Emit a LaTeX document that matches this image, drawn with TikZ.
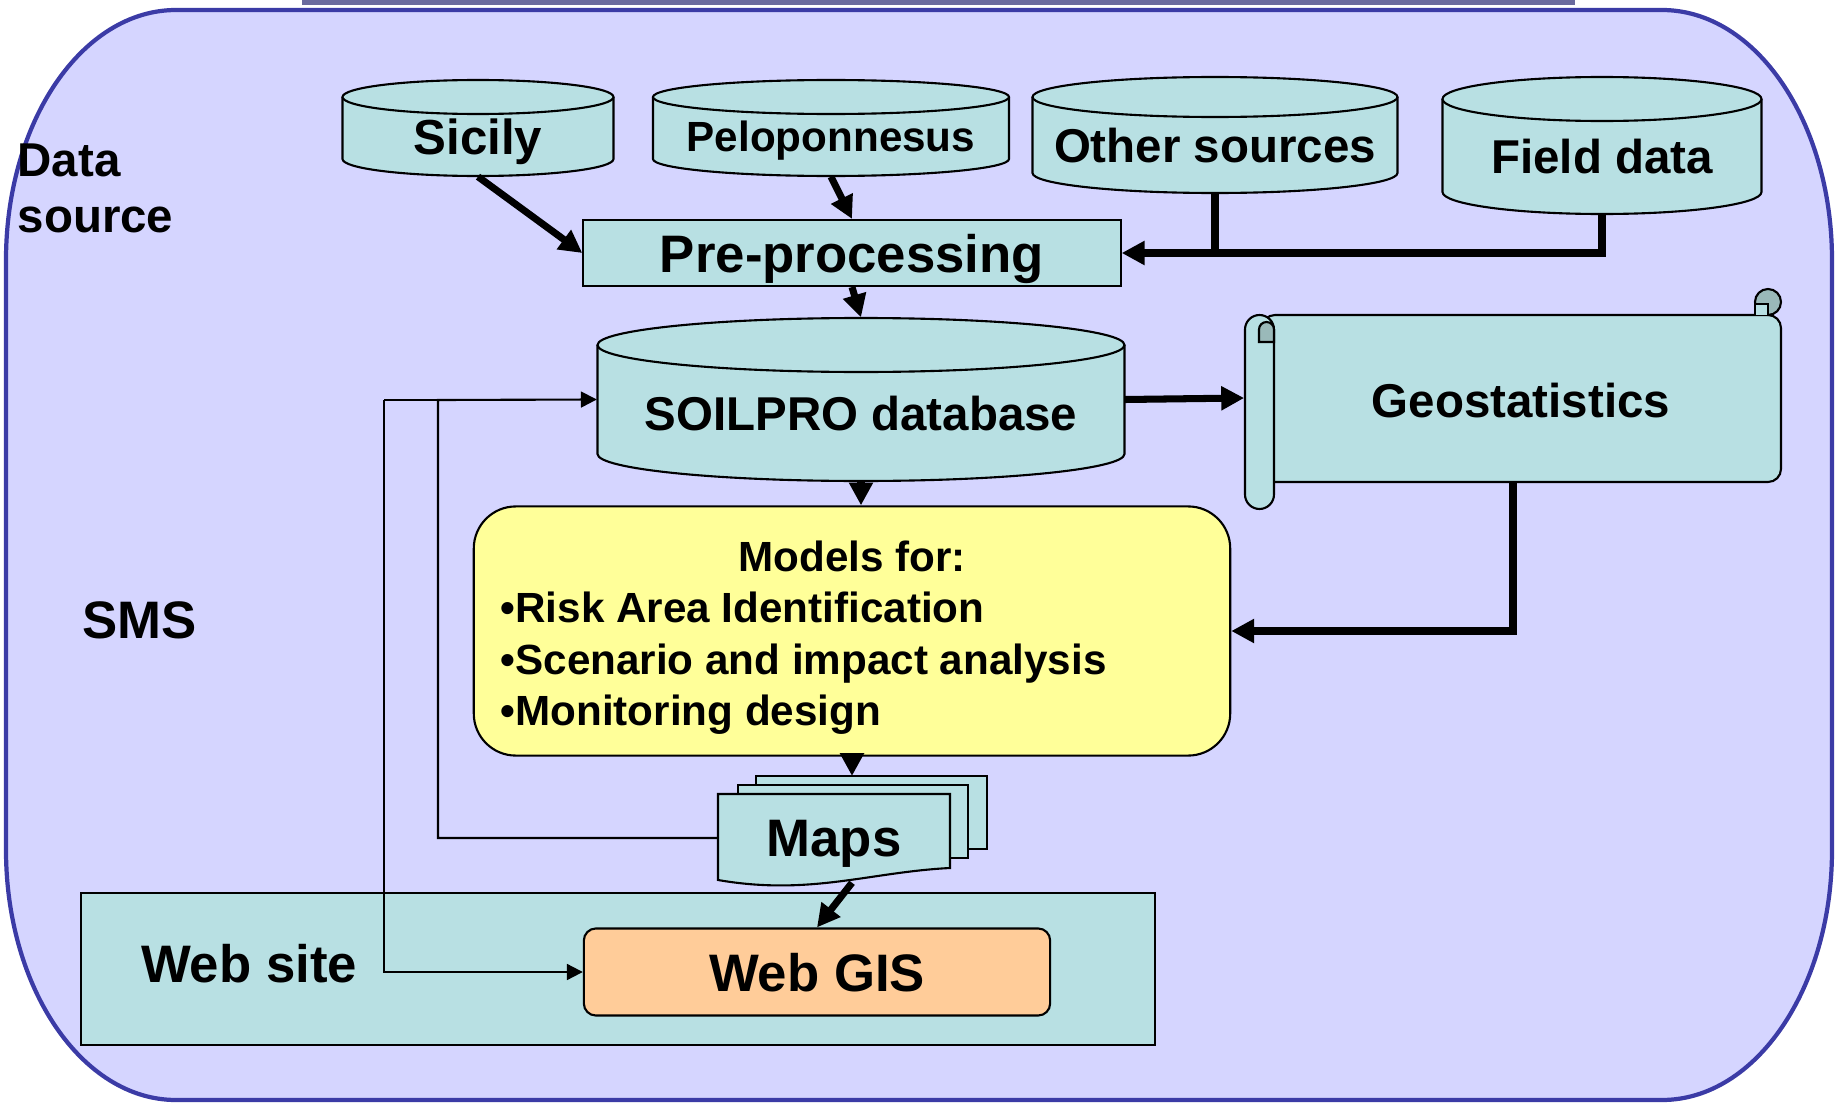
\documentclass[tikz,border=0pt]{standalone}
\usepackage{fontspec}
\setmainfont{Liberation Sans}
\usetikzlibrary{arrows.meta,calc}

\definecolor{sheet}{HTML}{D5D5FF}
\definecolor{rim}{HTML}{3B3BA6}
\definecolor{band}{HTML}{6A6A9E}
\definecolor{cyanbox}{HTML}{B8E0E3}
\definecolor{curl}{HTML}{9AB9B9}
\definecolor{modelbg}{HTML}{FFFF99}
\definecolor{gisbg}{HTML}{FFCC99}

\newcommand{\bfsz}[1]{\fontsize{#1}{#1}\selectfont\bfseries}

\begin{document}
\begin{tikzpicture}[x=0.01cm, y=-0.01cm,
  box/.style={draw=black, line width=0.6pt, fill=cyanbox},
  fat/.style={line width=2pt, -{Triangle[length=6.5pt,width=6.5pt]}},
  lean/.style={line width=0.6pt, -{Triangle[length=4.5pt,width=4.5pt]}},
  lbl/.style={inner sep=0pt, text depth=0pt, font=\bfsz{#1}}]
\useasboundingbox (0,0) rectangle (1835,1103);

% Frame
\fill[band] (302,0) rectangle (1575,5);
\draw[rim, line width=1.2pt, fill=sheet] (176,10) -- (1662,10)
  arc[start angle=270, end angle=360, x radius=170, y radius=250] -- (1832,850)
  arc[start angle=0, end angle=90, x radius=170, y radius=250] -- (176,1100)
  arc[start angle=90, end angle=180, x radius=170, y radius=250] -- (6,260)
  arc[start angle=180, end angle=270, x radius=170, y radius=250] -- cycle;

% Databases
\foreach \n/\cx/\t/\b/\w/\r/\s/\txt in {
    sicily/478/80/176/271/17/14/Sicily,
    pelop/831/80/176/356/17/12/Peloponnesus,
    other/1215/77/193/365/20/13.5/Other sources,
    field/1602/77/214/319/22/13.5/Field data,
    soil/861/318/481/527/27/13.5/SOILPRO database} {
  \draw[box] (\cx-\w/2,\t+\r) -- (\cx-\w/2,\b-\r)
    arc[start angle=180, end angle=0, x radius=\w/2, y radius=\r] -- (\cx+\w/2,\t+\r);
  \draw[box] (\cx,\t+\r) ellipse[x radius=\w/2, y radius=\r];
  \node[inner sep=0pt, minimum width=\w*0.01cm, minimum height=(\b-\t)*0.01cm] (\n) at (\cx,{(\t+\b)/2}) {};
  \node[lbl=\s] (\n-txt) at (\cx,{(\t+\b+\r)/2}) {\txt};
}

% Pre-processing
\node[box, lbl=15, minimum width=5.37cm, minimum height=0.66cm] (pre) at (852,253) {Pre-processing};

% Geostatistics scroll
\draw[box, rounded corners=0.13cm] (1262,315) rectangle (1781,482);
\draw[black, line width=0.6pt, fill=curl] (1768,302) circle[radius=13];
\draw[box] (1755,315) -- (1755,304) -- (1768,304) -- (1768,315);
\draw[box, rounded corners=0.145cm] (1245,315) rectangle (1274,509);
\draw[black, line width=0.6pt, fill=curl] (1259,342) -- (1259,329.5)
  arc[start angle=180, end angle=360, radius=7.5] -- (1274,342) -- cycle;
\node[inner sep=0pt, minimum width=5.36cm, minimum height=1.67cm] (geo) at (1513,398) {};
\node[lbl=13.5] (geo-txt) at (1521,400) {Geostatistics};

% Models
\node[draw=black, line width=0.6pt, fill=modelbg, rounded corners=0.42cm,
  minimum width=7.56cm, minimum height=2.49cm] (models) at (852,631) {};
\node[lbl=12] (models-head) at (852,556) {Models for:};
\node[lbl=12, align=left, anchor=west, font=\fontsize{12}{14.65}\selectfont\bfseries]
  (models-list) at (500,659) {•Risk Area Identification\\•Scenario and impact analysis\\•Monitoring design};

% Maps
\draw[box] (756,776) rectangle (987,849);
\draw[box] (738,785) rectangle (968,858);
\draw[box] (718,794) -- (950,794) -- (950,868)
  .. controls (870,872) and (810,896) .. (718,880) -- cycle;
\node[lbl=15, minimum width=2.32cm, minimum height=0.88cm] (maps) at (834,838) {Maps};
\coordinate (maps-in) at (852,776);

% Web site
\node[box, minimum width=10.74cm, minimum height=1.52cm] (site) at (618,969) {};
\node[lbl=15] (site-txt) at (249,963) {Web site};
\node[draw=black, line width=0.6pt, fill=gisbg, rounded corners=0.12cm, lbl=15,
  minimum width=4.66cm, minimum height=0.87cm] (gis) at (817,972) {Web GIS};

% Side labels
\node[lbl=13.5, align=left, anchor=west, font=\fontsize{13.5}{16}\selectfont\bfseries]
  (src) at (17,188) {Data\\source};
\node[lbl=15, anchor=west] (sms) at (82,620) {SMS};

% Flow
\draw[fat] (sicily.south) -- (pre.west);
\draw[fat] (pelop.south) -- (pre.north);
\draw[fat] (field.south) |- (pre.east);
\draw[line width=2pt] (other.south) -- (other.south |- pre.east);
\draw[fat] (pre.south) -- (soil.north);
\draw[fat] (soil.east) -- (geo.west);
\draw[fat] (geo.south) |- (models.east);
\draw[fat] (soil.south) -- (soil.south |- models.north);
\draw[fat] (models.south -| maps-in) -- (maps-in);
\draw[fat] (maps.south -| maps-in) -- (gis.north);

% Feedback lines
\coordinate (busA) at (438,400);
\coordinate (busB) at (384,400);
\draw[lean] (maps.west) -| (busA) -- (soil.west);
\draw[line width=0.6pt] (busB) -- (busA);
\draw[lean] (busB) |- (gis.west);
\end{tikzpicture}
\end{document}
